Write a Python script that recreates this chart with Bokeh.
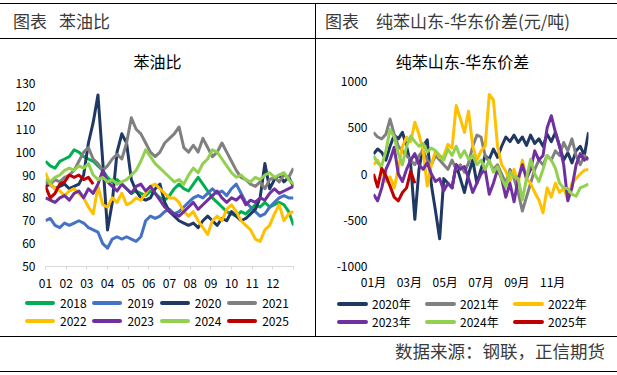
from bokeh.plotting import figure
from bokeh.models import Range1d, FixedTicker, Div
from bokeh.layouts import column, row
from bokeh.embed import file_html
from bokeh.resources import INLINE

FONT = "Noto Sans CJK SC"

# ---------------- data: 苯油比 (weekly, week 0..52) ----------------
ratio_years = ["2018", "2019", "2020", "2021", "2022", "2023", "2024", "2025"]
ratio_colors = ["#00B050", "#4472C4", "#203864", "#808080", "#FFC000", "#7030A0", "#92D050", "#C00000"]

ratio_2018 = [96, 94, 93, 96, 97, 98, 101, 100, 98, 97, 96, 94, 92, 89, 87, 88, 86, 84, 82, 83, 82, 81, 83, 82, 80, 79,
              81, 84, 86, 84, 83, 86, 89, 86, 83, 80, 78, 76, 74, 73, 72, 74, 73, 75, 77, 76, 78, 76, 77, 78, 77, 74, 68]
ratio_2019 = [70, 71, 68, 67, 69, 68, 69, 70, 69, 67, 66, 65, 60, 58, 62, 63, 62, 63, 62, 61, 63, 70, 72, 71, 72, 74,
              75, 73, 74, 76, 78, 80, 81, 80, 82, 84, 82, 83, 81, 84, 86, 82, 78, 76, 74, 72, 73, 76, 78, 80, 81, 80, 80]
ratio_2020 = [85, 86, 84, 85, 86, 84, 85, 86, 90, 104, 113, 125, 96, 66, 78, 100, 108, 104, 88, 83, 80, 79, 80, 84, 86,
              78, 74, 72, 70, 69, 68, 69, 67, 70, 72, 70, 68, 71, 70, 74, 72, 70, 71, 73, 75, 80, 95, 84, 88, 90, 87, 89, 85]
ratio_2021 = [87, 86, 88, 87, 89, 90, 92, 96, 100, 102, 97, 95, 92, 94, 97, 99, 97, 104, 115, 110, 108, 104, 100, 98,
              100, 104, 106, 108, 111, 102, 100, 103, 100, 106, 102, 98, 100, 104, 100, 96, 92, 89, 88, 86, 85, 87, 84,
              88, 89, 87, 90, 89, 93]
ratio_2022 = [91, 86, 84, 83, 81, 83, 84, 82, 80, 76, 73, 85, 77, 76, 80, 78, 82, 77, 78, 80, 79, 82, 85, 86, 84, 82,
              80, 80, 78, 74, 72, 74, 70, 67, 64, 70, 72, 70, 75, 77, 74, 70, 68, 66, 62, 61, 66, 68, 73, 77, 70, 73, 74]
ratio_2023 = [80, 79, 78, 80, 81, 79, 82, 83, 80, 84, 82, 86, 92, 87, 85, 83, 86, 84, 82, 85, 86, 83, 85, 82, 79, 76,
              74, 73, 72, 74, 76, 78, 75, 77, 79, 81, 83, 80, 78, 80, 79, 81, 77, 79, 78, 80, 79, 82, 84, 82, 83, 84, 85]
ratio_2024 = [88, 87, 89, 90, 92, 93, 92, 94, 93, 95, 90, 88, 89, 87, 88, 86, 87, 88, 90, 92, 96, 101, 98, 95, 93, 91,
              89, 87, 88, 86, 90, 93, 91, 95, 97, 101, 100, 97, 94, 91, 89, 90, 88, 87, 89, 88, 90, 91, 89, 90, 91, 88, 86]
ratio_2025 = [85, 80, 82, 86, 87, 90, 89, 90, 88, 89, 86]

ratio_ticks = [50, 60, 70, 80, 90, 100, 110, 120, 130]
ratio_month_labels = ["01", "02", "03", "04", "05", "06", "07", "08", "09", "10", "11", "12"]

# ---------------- data: 纯苯山东-华东价差 (weekly) ----------------
spread_years = ["2020年", "2021年", "2022年", "2023年", "2024年", "2025年"]
spread_colors = ["#203864", "#808080", "#FFC000", "#7030A0", "#92D050", "#C00000"]

spread_2020 = [216, 270, 234, 150, 300, 420, 380, 450, 300, 100, -490, 50, 300, 370, -120, -400, -700, -50, -100, -150,
               100, -50, -200, 0, 150, -100, 50, 200, 160, 270, 180, 300, 400, 350, 420, 340, 400, 310, 420, 330, 380,
               300, 430, 350, 450, 300, 150, 230, 120, 250, 300, 200, 450]
spread_2021 = [450, 400, 380, 430, 594, 430, 300, 250, 200, 150, 100, 200, 250, 150, 100, 200, 150, 100, 50, 150, 50,
               100, 20, 120, 300, 420, 400, 200, 130, 50, 100, 0, -100, 50, -50, -200, -400, -250, -100, 50, 150, 100,
               200, 150, 250, 200, 340, 250, 380, 200, 100, 200, 150]
spread_2022 = [100, 150, 50, -80, -30, -150, 50, 300, 400, 350, 560, 430, 250, -130, 100, 250, 180, 200, 320, 280, 740,
               600, 450, 680, 300, 150, 250, 300, 860, 800, 300, 100, 30, -80, 50, -100, 150, -50, -100, -200, -280,
               -420, -150, -250, -100, -200, -150, -280, -100, -50, 0, 40, 50]
spread_2023 = [-220, -290, -150, 50, 150, 290, 0, -80, 50, 150, 220, 100, 50, 120, 0, -80, -50, -180, -100, -150, 100,
               50, 80, -50, -200, -100, 0, 50, -220, -100, 50, -50, -250, -100, -300, -50, 100, -50, 50, 250, 150, 200,
               500, 630, 450, 300, 100, -290, -150, 100, 220, 150, 180]
spread_2024 = [200, 120, 90, 250, 480, 400, 220, 100, 300, 410, 350, 300, 330, 240, 280, 250, 200, 150, 270, 200, 300,
               180, 250, 160, 200, 100, 150, 50, 150, 20, 80, -50, -140, 20, -30, -50, -280, -50, 160, 0, -80, 50, 200,
               150, 60, -100, -150, -160, -220, -240, -150, -130, -110]
spread_2025 = [0, -140, 60, -20, -130, -250, -290, -200, -150, 30, -100]

spread_ticks = [-1000, -500, 0, 500, 1000]
spread_tick_labels = ["-1000", "-500", "0", "500", "1000"]
spread_month_ticks = [0, 2, 4, 6, 8, 10]
spread_month_labels = ["01月", "03月", "05月", "07月", "09月", "11月"]

ratio_series = [ratio_2018, ratio_2019, ratio_2020, ratio_2021, ratio_2022, ratio_2023, ratio_2024, ratio_2025]
spread_series = [spread_2020, spread_2021, spread_2022, spread_2023, spread_2024, spread_2025]


def week_pos(n):
    # week index -> position on a 0..12 month axis
    return [i * 12 / 52 for i in range(n)]


def base_fig(width, height, y_range, left, right, top, bottom):
    p = figure(width=width, height=height, x_range=Range1d(0, 12), y_range=y_range,
               output_backend="svg", toolbar_location=None,
               min_border_left=left, min_border_right=right,
               min_border_top=top, min_border_bottom=bottom)
    p.outline_line_color = None
    p.xgrid.visible = False
    p.ygrid.visible = False
    p.background_fill_color = "white"
    p.border_fill_color = "white"
    for ax in (p.xaxis[0], p.yaxis[0]):
        ax.minor_tick_line_color = None
        ax.major_label_text_font = FONT
        ax.major_label_text_font_size = "12px"
        ax.major_label_text_color = "#000000"
    p.yaxis.axis_line_color = None
    p.yaxis.major_tick_line_color = None
    p.yaxis.major_tick_out = 0
    p.yaxis.major_tick_in = 0
    return p


def html_legend(width, labels, colors, x0, pitch, row_tops, ncols, glyph_w, standoff, margin):
    # legend block (swatches + real text labels) laid out like the reference's two-row legend
    parts = []
    for i, (lab, col) in enumerate(zip(labels, colors)):
        r, c = divmod(i, ncols)
        left = x0 + c * pitch
        top = row_tops[r]
        parts.append(
            f"<span style=\"position:absolute;left:{left}px;top:{top + 7}px;width:{glyph_w}px;height:4px;"
            f"border-radius:2px;background:{col};\"></span>"
            f"<span style=\"position:absolute;left:{left + glyph_w + standoff}px;top:{top}px;height:18px;"
            f"line-height:18px;font-family:'Noto Sans CJK SC';font-size:12px;color:#000;white-space:nowrap;\">"
            f"{lab}</span>")
    html = (f"<div style=\"position:relative;width:{width}px;height:43px;\">"
            + "".join(parts) + "</div>")
    return Div(text=html, width=width, height=43, margin=margin)


# ---------------- left chart ----------------
p1 = base_fig(315, 266, Range1d(50, 130), 45, 22, 13, 70)
p1.yaxis.ticker = FixedTicker(ticks=ratio_ticks)
p1.yaxis.major_label_standoff = 10
p1.xaxis.ticker = FixedTicker(ticks=list(range(13)))
ov = {i: lab for i, lab in enumerate(ratio_month_labels)}
ov[12] = ""
p1.xaxis.major_label_overrides = ov
p1.xaxis.axis_line_color = "#D9D9D9"
p1.xaxis.major_tick_line_color = "#D9D9D9"
p1.xaxis.major_tick_out = 3
p1.xaxis.major_tick_in = 0
p1.xaxis.major_label_standoff = 9
for yr, col, vals in zip(ratio_years, ratio_colors, ratio_series):
    p1.line(week_pos(len(vals)), vals, line_color=col, line_width=3, line_join="round")
# legend sits over the empty lower border of the chart
lg1 = html_legend(315, ratio_years, ratio_colors, 25, 67.4, [1, 19], 4, 30, 5, (-43, 0, 0, 0))

# ---------------- right chart ----------------
p2 = base_fig(301, 223, Range1d(-1000, 1000), 57, 29, 11, 27)
p2.yaxis.ticker = FixedTicker(ticks=spread_ticks)
p2.yaxis.major_label_overrides = {t: s for t, s in zip(spread_ticks, spread_tick_labels)}
p2.yaxis.major_label_standoff = 6
p2.xaxis.ticker = FixedTicker(ticks=spread_month_ticks)
p2.xaxis.major_label_overrides = {t: s for t, s in zip(spread_month_ticks, spread_month_labels)}
p2.xaxis.axis_line_color = None
p2.xaxis.major_tick_line_color = None
p2.xaxis.major_tick_out = 0
p2.xaxis.major_tick_in = 0
p2.xaxis.major_label_standoff = 6
for yr, col, vals in zip(spread_years, spread_colors, spread_series):
    p2.line(week_pos(len(vals)), vals, line_color=col, line_width=3, line_join="round")
lg2 = html_legend(301, spread_years, spread_colors, 21, 88, [2, 20], 3, 31, 4, 0)

# ---------------- frame / headers / titles ----------------
HDR = ("<div style=\"box-sizing:border-box;width:{w}px;height:36px;border-top:1px solid #000;"
       "border-bottom:1px solid #000;font-family:'Noto Sans CJK SC';font-size:17px;color:#3a3a3a;"
       "line-height:34px;padding-left:{pl}px;white-space:nowrap;overflow:hidden;\">{t}</div>")
hdr_left = Div(text=HDR.format(w=315, pl=13, t="图表<span style=\"margin-left:12px\"></span>苯油比"),
               width=315, height=36, margin=0)
hdr_right = Div(text=HDR.format(w=301, pl=9, t="图表<span style=\"margin-left:17px\"></span>纯苯山东-华东价差(元/吨)"),
                width=301, height=36, margin=0)

TTL = ("<div style=\"box-sizing:border-box;width:{w}px;height:31px;padding-top:14px;padding-right:{pr}px;"
       "font-family:'Noto Sans CJK SC';font-size:16px;line-height:16px;color:#000;text-align:center;"
       "white-space:nowrap;\">{t}</div>")
ttl_left = Div(text=TTL.format(w=315, pr=0, t="苯油比"), width=315, height=31, margin=0)
ttl_right = Div(text=TTL.format(w=301, pr=8, t="纯苯山东-华东价差"), width=301, height=31, margin=0)

sep = Div(text="<div style=\"width:1px;height:333px;background:#000;\"></div>", width=1, height=333, margin=0)
footer = Div(text=("<div style=\"box-sizing:border-box;width:617px;height:36px;border-top:1px solid #000;"
                   "border-bottom:1px solid #000;font-family:'Noto Sans CJK SC';font-size:17.5px;color:#3a3a3a;"
                   "line-height:28px;text-align:right;padding-right:12px;white-space:nowrap;\">"
                   "数据来源：钢联，正信期货</div>"), width=617, height=36, margin=0)

left_col = column(hdr_left, ttl_left, p1, lg1, margin=0, spacing=0)
right_col = column(hdr_right, ttl_right, p2, lg2, margin=0, spacing=0)
layout = column(row(left_col, sep, right_col, margin=0, spacing=0), footer,
                margin=(3, 0, 0, 0), spacing=0)

open("out.html", "w").write(file_html(layout, INLINE))
